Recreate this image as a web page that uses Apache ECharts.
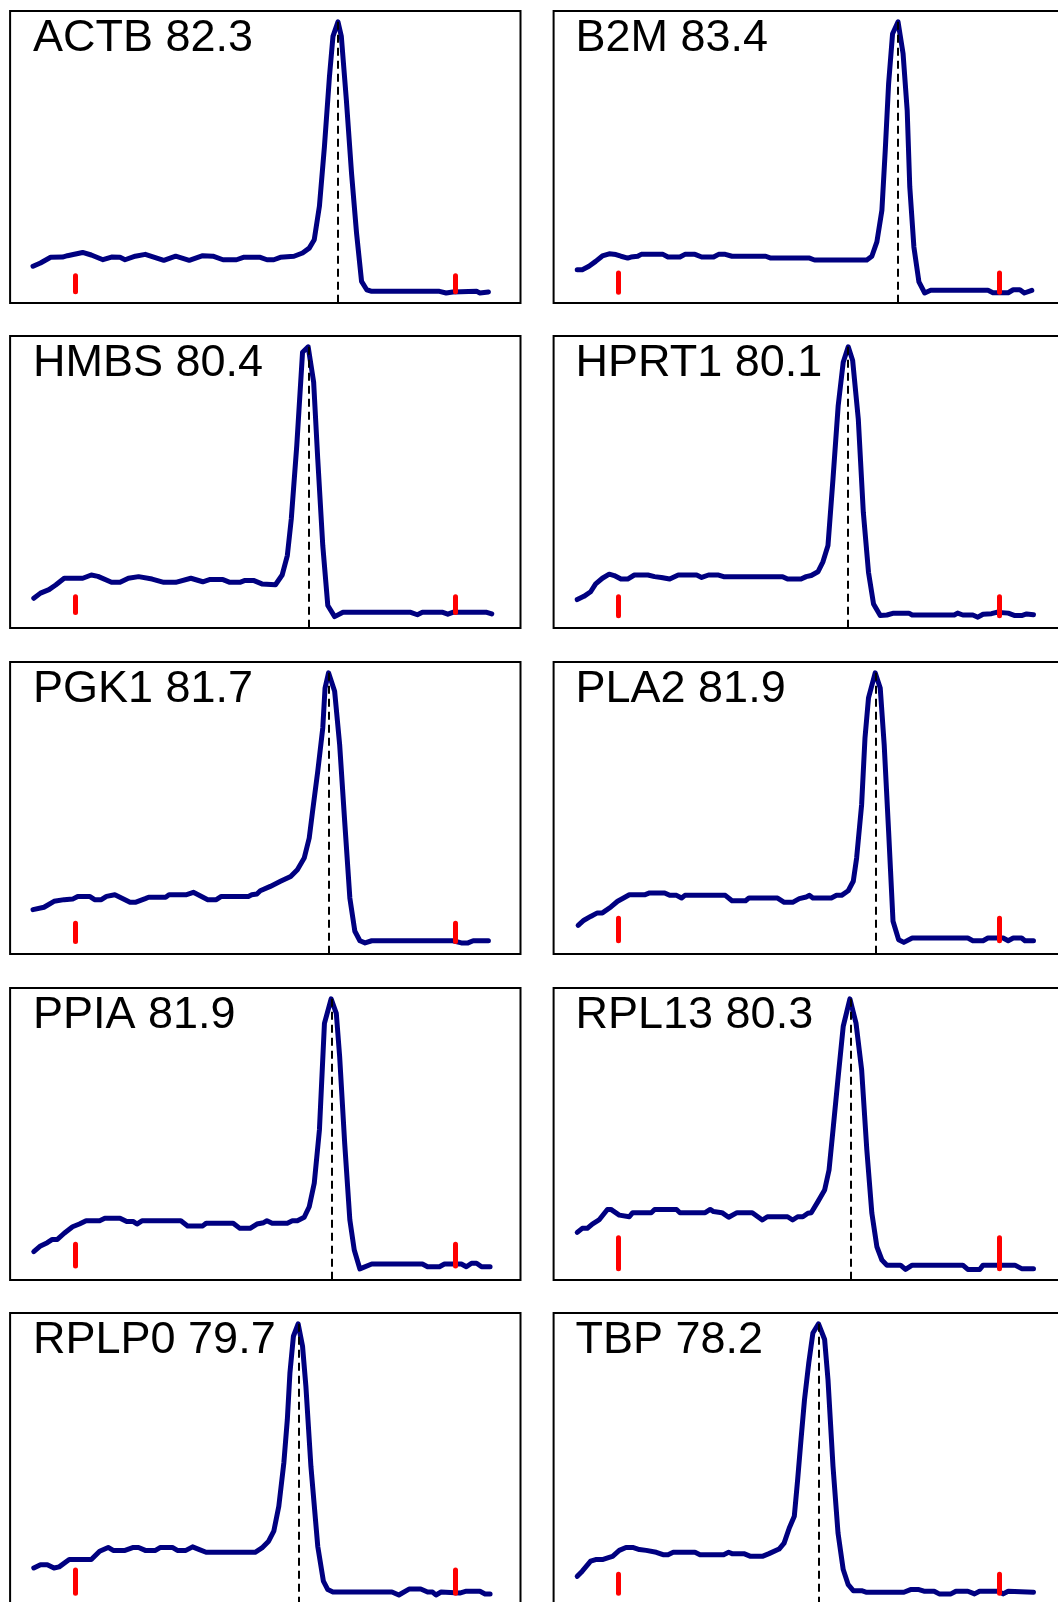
<!DOCTYPE html>
<html><head><meta charset="utf-8">
<script src="https://cdn.jsdelivr.net/npm/echarts/dist/echarts.min.js"></script>
<style>html,body{margin:0;padding:0;background:#fff}#c{width:1058px;height:1602px}</style>
</head><body><div id="c"></div><script>
// ---- data (temperature °C, normalised -dF/dT with peak = 100) ----
const genes = ['ACTB','B2M','HMBS','HPRT1','PGK1','PLA2','PPIA','RPL13','RPLP0','TBP'];
const meltTemps = [82.3, 83.4, 80.4, 80.1, 81.7, 81.9, 81.9, 80.3, 79.7, 78.2];
const markerTemps = [65, 90];
const markerLow  = [0.2, 0.0, 1.7, 0.5, 0.6, 0.9, 1.2, 0.2, 0.3, 0.3];
const markerHigh = [6.1, 7.1, 7.6, 7.6, 7.4, 9.2, 9.2, 11.6, 8.9, 7.4];

const curveACTB = [[62.24,9.6],[62.73,10.8],[63.4,12.9],[64.18,13.0],[64.5,13.5],[65.5,14.7],[66.07,13.75],[66.84,12.0],[67.4,13.0],[67.96,12.9],[68.29,12.0],[68.96,13.3],[69.62,14.0],[70.84,11.8],[71.62,13.3],[72.51,11.8],[73.4,13.5],[74.07,13.3],[74.73,12.0],[75.62,12.0],[76.07,12.9],[77.18,12.9],[77.62,12.0],[78.07,12.0],[78.5,12.9],[79.4,13.3],[79.96,14.5],[80.4,16.3],[80.73,19.4],[81.07,31.8],[81.4,53.9],[81.73,79.8],[81.96,94.6],[82.29,100],[82.51,94.6],[82.84,71.2],[83.18,44.1],[83.51,21.9],[83.84,4.0],[84.18,0.9],[84.51,0.3],[88.96,0.3],[89.4,-0.3],[89.84,0.1],[91.4,0.3],[91.62,-0.3],[92.18,0.1]];
const curveB2M = [[62.33,8.3],[62.66,8.3],[63.1,9.6],[63.54,11.4],[63.98,13.4],[64.43,14.2],[64.87,13.9],[65.2,13.3],[65.64,12.6],[65.86,13.0],[66.3,13.3],[66.53,14.0],[67.96,14.0],[68.29,13.0],[69.07,13.0],[69.4,14.0],[70.06,14.0],[70.5,13.0],[71.28,13.0],[71.61,14.0],[72.05,14.0],[72.49,13.3],[74.7,13.3],[75.04,12.6],[77.58,12.6],[77.91,11.9],[81.34,11.9],[81.67,13.3],[82.0,18.6],[82.33,30.3],[82.55,52.5],[82.77,77.1],[83.03,95.6],[83.39,100],[83.72,88.2],[83.99,67.2],[84.16,38.9],[84.43,16.7],[84.76,3.8],[85.14,-0.3],[85.53,0.7],[89.29,0.7],[89.62,-0.2],[90.62,-0.2],[90.95,0.9],[91.39,0.9],[91.68,-0.3],[92.17,0.7]];
const curveHMBS = [[62.29,7.0],[62.73,8.9],[63.29,10.2],[63.73,11.9],[64.29,14.4],[65.51,14.4],[66.07,15.6],[66.51,15.1],[67.4,12.9],[67.96,12.9],[68.51,14.4],[69.18,15.0],[70.07,14.1],[70.84,12.9],[71.62,12.9],[72.62,14.4],[73.4,13.1],[73.84,13.9],[74.73,13.9],[75.18,12.9],[75.84,12.9],[76.18,13.6],[76.73,13.6],[77.29,12.3],[78.18,12.0],[78.62,15.6],[78.96,22.8],[79.22,36.3],[79.58,63.4],[79.96,98.0],[80.33,100],[80.69,86.9],[80.96,58.5],[81.29,26.5],[81.62,4.3],[82.07,0.2],[82.62,1.8],[87.07,1.8],[87.51,0.9],[87.84,1.8],[89.18,1.8],[89.51,1.1],[89.84,1.8],[92.07,1.8],[92.4,1.2]];
const curveHPRT1 = [[62.33,6.5],[62.77,7.7],[63.21,9.4],[63.54,12.3],[63.98,14.4],[64.43,15.9],[64.76,15.4],[65.2,14.1],[65.64,14.1],[66.08,15.6],[66.97,15.6],[67.41,15.0],[67.85,14.7],[68.4,14.1],[68.96,15.6],[70.17,15.6],[70.5,14.7],[70.95,15.6],[71.61,15.6],[71.94,15.0],[75.81,15.0],[76.14,14.1],[77.02,14.1],[77.36,15.0],[77.69,15.4],[78.13,16.8],[78.46,20.5],[78.79,26.5],[79.12,51.2],[79.46,78.2],[79.79,94.3],[80.12,100],[80.41,94.9],[80.78,73.3],[81.11,38.8],[81.45,16.6],[81.78,4.9],[82.22,0.6],[82.66,0.8],[83.1,1.5],[84.1,1.5],[84.32,0.8],[87.08,0.8],[87.3,1.5],[87.64,0.8],[88.3,0.8],[88.63,0.0],[88.97,1.1],[89.52,1.3],[89.85,1.8],[90.62,1.5],[91.06,0.6],[91.5,0.6],[91.83,1.2],[92.28,0.9]];
const curvePGK1 = [[62.24,12.4],[62.96,13.3],[63.62,15.5],[64.29,16.1],[64.84,16.3],[65.18,17.3],[65.96,17.3],[66.29,16.1],[66.73,16.1],[67.07,17.3],[67.62,17.9],[68.62,15.1],[68.96,15.1],[69.62,16.5],[69.84,17.0],[70.96,17.0],[71.18,17.9],[72.29,17.9],[72.78,18.8],[73.73,16.1],[74.29,16.1],[74.62,17.3],[76.4,17.3],[76.62,17.9],[76.96,18.2],[77.18,19.4],[77.84,21.0],[78.51,22.9],[79.18,24.7],[79.62,27.2],[80.07,31.5],[80.4,38.9],[80.62,48.8],[80.96,63.6],[81.29,79.6],[81.44,94.4],[81.67,100],[82.07,93.2],[82.4,73.4],[82.73,45.1],[83.07,16.7],[83.4,4.4],[83.73,0.9],[84.07,0.1],[84.51,0.9],[89.84,0.9],[90.4,0.1],[90.84,0.1],[91.18,0.9],[92.18,0.9]];
const curvePLA2 = [[62.39,6.6],[62.77,8.5],[63.21,9.9],[63.65,11.2],[63.98,11.2],[64.54,13.4],[64.98,15.5],[65.31,16.5],[65.75,17.9],[66.75,17.9],[67.08,18.6],[68.07,18.6],[68.4,17.7],[68.85,17.7],[69.18,16.7],[69.4,17.7],[72.05,17.7],[72.49,15.7],[73.38,15.7],[73.6,16.7],[75.48,16.7],[75.92,15.1],[76.47,15.1],[76.91,16.5],[77.36,17.1],[77.58,17.7],[77.8,16.7],[79.01,16.7],[79.35,17.7],[79.68,17.7],[80.12,19.4],[80.45,22.9],[80.67,31.5],[81.0,51.3],[81.22,75.9],[81.45,90.7],[81.89,100],[82.22,94.4],[82.48,73.4],[82.77,41.4],[83.06,8.1],[83.43,1.3],[83.77,0.3],[84.32,1.9],[87.97,1.9],[88.3,0.9],[88.97,0.9],[89.29,1.9],[90.29,1.9],[90.62,0.9],[90.95,1.9],[91.5,1.9],[91.72,0.9],[92.28,0.9]];
const curvePPIA = [[62.29,6.5],[62.73,8.6],[63.18,9.8],[63.51,11.0],[63.84,11.0],[64.29,13.3],[64.84,15.7],[65.29,16.7],[65.73,17.9],[66.62,17.9],[66.96,18.8],[67.96,18.8],[68.4,17.6],[68.84,17.6],[69.07,16.7],[69.4,17.9],[71.96,17.9],[72.4,16.0],[73.4,16.0],[73.62,17.0],[75.4,17.0],[75.84,15.1],[76.51,15.1],[76.96,16.7],[77.4,17.2],[77.62,17.9],[77.96,17.0],[78.96,17.0],[79.29,17.9],[79.62,17.9],[80.07,19.2],[80.4,23.1],[80.73,31.8],[81.07,51.5],[81.4,90.9],[81.84,100],[82.18,94.6],[82.4,78.6],[82.73,46.6],[83.07,18.2],[83.36,7.1],[83.73,0.1],[84.51,1.9],[87.84,1.9],[88.18,0.9],[88.96,0.9],[89.29,1.9],[90.4,1.9],[90.73,0.9],[91.07,2.2],[91.4,2.2],[91.73,0.9],[92.29,0.9]];
const curveRPL13 = [[62.33,13.6],[62.66,15.1],[62.99,15.1],[63.32,16.7],[63.76,18.2],[64.31,22.1],[64.54,22.1],[65.09,20.0],[65.75,19.4],[65.97,20.9],[67.19,20.9],[67.41,22.1],[68.85,22.1],[69.07,20.9],[70.73,20.9],[71.06,22.1],[71.28,21.3],[71.83,20.9],[72.27,19.2],[72.82,20.9],[73.82,20.9],[74.48,18.2],[74.81,19.4],[76.14,19.4],[76.47,18.2],[76.8,19.4],[77.14,19.4],[77.47,20.7],[77.69,20.9],[78.13,25.0],[78.57,29.3],[78.86,36.7],[79.12,51.5],[79.46,71.2],[79.79,89.8],[80.23,100],[80.63,91.0],[81.0,73.7],[81.34,44.1],[81.67,20.7],[82.0,8.3],[82.33,3.4],[82.66,1.5],[83.55,1.5],[83.88,-0.1],[84.32,1.5],[87.64,1.5],[87.97,-0.1],[88.75,-0.1],[88.97,1.5],[91.06,1.5],[91.5,0.2],[92.28,0.2]];
const curveRPLP0 = [[62.29,9.7],[62.73,10.9],[63.18,10.9],[63.62,9.7],[63.96,10.1],[64.62,12.8],[66.07,12.8],[66.62,15.9],[67.18,17.3],[67.51,16.2],[68.29,16.2],[68.84,17.3],[69.18,17.3],[69.62,16.2],[70.29,16.2],[70.62,17.3],[71.4,17.3],[71.73,16.2],[72.29,16.2],[72.73,17.5],[73.18,16.5],[73.62,15.5],[76.84,15.5],[77.29,17.1],[77.73,19.6],[78.07,23.3],[78.4,32.5],[78.73,48.5],[78.96,64.6],[79.13,81.8],[79.36,95.4],[79.67,100],[79.96,91.7],[80.18,76.9],[80.51,47.3],[80.96,17.7],[81.33,4.8],[81.62,1.7],[81.96,0.8],[85.84,0.8],[86.29,-0.3],[86.96,1.9],[87.73,1.9],[88.18,0.8],[88.51,0.8],[88.73,-0.3],[89.07,0.8],[90.29,0.4],[90.73,1.1],[91.62,1.1],[91.96,0.1],[92.29,0.1]];
const curveTBP = [[62.33,6.6],[62.66,8.5],[63.21,12.2],[63.54,12.8],[63.98,12.8],[64.43,13.6],[64.65,14.0],[65.09,16.2],[65.53,17.3],[65.97,17.3],[66.41,16.5],[66.86,16.2],[67.52,15.5],[67.96,14.6],[68.29,14.6],[68.63,15.5],[70.06,15.5],[70.39,14.6],[71.94,14.6],[72.27,15.5],[72.49,15.0],[73.27,15.0],[73.71,14.0],[74.48,14.0],[74.92,15.0],[75.58,16.7],[75.91,18.9],[76.25,24.5],[76.58,28.8],[76.8,42.4],[77.02,57.2],[77.25,72.0],[77.53,85.6],[77.8,96.6],[78.17,100],[78.57,94.2],[78.79,79.4],[79.12,47.3],[79.45,22.6],[79.79,9.1],[80.12,3.5],[80.45,1.3],[81.0,1.3],[81.33,0.7],[83.77,0.7],[84.21,1.7],[84.76,1.7],[85.09,1.1],[85.76,1.1],[86.09,0.1],[86.86,0.1],[87.19,1.1],[87.97,1.1],[88.41,0.1],[88.74,1.1],[89.96,1.1],[90.29,0.1],[90.62,1.1],[92.28,0.7]];

const curves = [curveACTB, curveB2M, curveHMBS, curveHPRT1, curvePGK1, curvePLA2, curvePPIA, curveRPL13, curveRPLP0, curveTBP];

// ---- layout ----
const rowTop = [11, 336, 662, 988, 1313];
const colLeft = [10.1, 553.6];
const colWidth = [510.4, 510.4];
const colPxPerDeg = [15.21, 15.234];
const colTickOffset = [64.9, 64.3];   // px from box left to the 65 °C position
const textX = [33, 575.5];
const panelH = 292;
const yMin = -4, yMax = 104;
const FONT = '45px "Liberation Sans", Arial, Helvetica, sans-serif';

const grids = [], xAxes = [], yAxes = [], series = [], graphics = [];
genes.forEach((g, i) => {
  const r = Math.floor(i / 2), c = i % 2;
  const left = colLeft[c], top = rowTop[r], w = colWidth[c];
  const xmin = 65 - colTickOffset[c] / colPxPerDeg[c];
  const xmax = xmin + w / colPxPerDeg[c];
  grids.push({left: left, top: top, width: w, height: panelH, show: true,
    outerBoundsMode: 'none',
    borderColor: '#000', borderWidth: 2, backgroundColor: 'transparent', containLabel: false});
  xAxes.push({type: 'value', gridIndex: i, min: xmin, max: xmax,
    axisLine: {show: false}, axisTick: {show: false}, axisLabel: {show: false}, splitLine: {show: false}});
  yAxes.push({type: 'value', gridIndex: i, min: yMin, max: yMax,
    axisLine: {show: false}, axisTick: {show: false}, axisLabel: {show: false}, splitLine: {show: false}});
  const tm = meltTemps[i];
  const ml = [
    [{coord: [tm, 100], lineStyle: {color: '#000', width: 2, type: [8, 5]}}, {coord: [tm, yMin]}]
  ];
  markerTemps.forEach(t => {
    ml.push([{coord: [t, markerLow[i]], lineStyle: {color: '#ff0000', width: 5, type: 'solid', cap: 'round'}},
             {coord: [t, markerHigh[i]]}]);
  });
  series.push({
    type: 'line', xAxisIndex: i, yAxisIndex: i, data: curves[i],
    showSymbol: false, symbol: 'none', silent: true, animation: false, clip: false,
    lineStyle: {color: '#000080', width: 5, cap: 'round', join: 'round'},
    markLine: {symbol: ['none', 'none'], silent: true, animation: false,
      label: {show: false}, emphasis: {disabled: true}, data: ml}
  });
  graphics.push({type: 'text', x: textX[c], y: top + 27.5, silent: true,
    style: {text: g + ' ' + tm.toFixed(1), font: FONT, fill: '#000', align: 'left', verticalAlign: 'middle'}});
});

const chart = echarts.init(document.getElementById('c'), null, {renderer: 'canvas'});
chart.setOption({
  backgroundColor: '#fff',
  animation: false,
  grid: grids, xAxis: xAxes, yAxis: yAxes, series: series, graphic: graphics
});
</script></body></html>
